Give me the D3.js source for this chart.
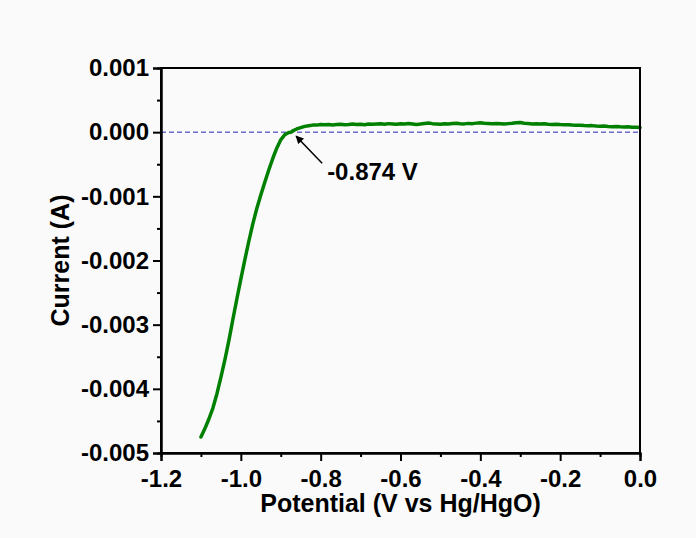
<!DOCTYPE html>
<html>
<head>
<meta charset="utf-8">
<script src="https://cdn.jsdelivr.net/npm/d3@7"></script>
<style>
  html, body { margin: 0; padding: 0; background: #fafafa; }
  svg { display: block; }
  text { font-family: "Liberation Sans", Arial, sans-serif; font-weight: bold; fill: #000; }
</style>
</head>
<body>
<svg id="chart" width="696" height="538"></svg>
<script>
// LSV sweep: potential (V vs Hg/HgO) and measured current (A)
const potential = [
  -1.100, -1.090, -1.080, -1.070, -1.060, -1.050, -1.040, -1.030, -1.020, -1.010,
  -1.000, -0.990, -0.980, -0.970, -0.960, -0.950, -0.940, -0.930, -0.920, -0.910,
  -0.900, -0.890, -0.880, -0.874, -0.870, -0.860, -0.850, -0.840, -0.830, -0.820,
  -0.810, -0.800, -0.790, -0.780, -0.770, -0.760, -0.750, -0.740, -0.730, -0.720,
  -0.710, -0.700, -0.690, -0.680, -0.670, -0.660, -0.650, -0.640, -0.630, -0.620,
  -0.610, -0.600, -0.590, -0.580, -0.570, -0.560, -0.550, -0.540, -0.530, -0.520,
  -0.510, -0.500, -0.490, -0.480, -0.470, -0.460, -0.450, -0.440, -0.430, -0.420,
  -0.410, -0.400, -0.390, -0.380, -0.370, -0.360, -0.350, -0.340, -0.330, -0.320,
  -0.310, -0.300, -0.290, -0.280, -0.270, -0.260, -0.250, -0.240, -0.230, -0.220,
  -0.210, -0.200, -0.190, -0.180, -0.170, -0.160, -0.150, -0.140, -0.130, -0.120,
  -0.110, -0.100, -0.090, -0.080, -0.070, -0.060, -0.050, -0.040, -0.030, -0.020,
  -0.010, 0.000
];
const current = [
  -0.004750, -0.004620, -0.004470, -0.004300, -0.004080, -0.003820, -0.003550, -0.003250, -0.002920, -0.002600,
  -0.002290, -0.001990, -0.001700, -0.001430, -0.001190, -0.000980, -0.000780, -0.000590, -0.000410, -0.000250,
  -0.000120, -0.000040, -0.000005, 0.000000, 0.000020, 0.000050, 0.000070, 0.000090, 0.000100, 0.000110,
  0.000110, 0.000120, 0.000115, 0.000120, 0.000112, 0.000118, 0.000125, 0.000116, 0.000121, 0.000128,
  0.000119, 0.000124, 0.000117, 0.000126, 0.000122, 0.000129, 0.000131, 0.000124, 0.000133, 0.000127,
  0.000122, 0.000130, 0.000126, 0.000134, 0.000128, 0.000121, 0.000127, 0.000135, 0.000142, 0.000133,
  0.000128, 0.000124, 0.000131, 0.000127, 0.000136, 0.000140, 0.000132, 0.000129, 0.000137, 0.000133,
  0.000141, 0.000148, 0.000139, 0.000134, 0.000130, 0.000136, 0.000131, 0.000127, 0.000133, 0.000138,
  0.000145, 0.000151, 0.000140, 0.000134, 0.000129, 0.000132, 0.000126, 0.000130, 0.000124, 0.000121,
  0.000125, 0.000118, 0.000114, 0.000117, 0.000110, 0.000106, 0.000109, 0.000103, 0.000099, 0.000102,
  0.000096, 0.000093, 0.000097, 0.000090, 0.000086, 0.000089, 0.000083, 0.000080, 0.000084, 0.000078,
  0.000075, 0.000072
];

const xTicks = [-1.2, -1.0, -0.8, -0.6, -0.4, -0.2, 0.0];
const xMinorTicks = [-1.1, -0.9, -0.7, -0.5, -0.3, -0.1];
const yTicks = [0.001, 0.000, -0.001, -0.002, -0.003, -0.004, -0.005];
const yMinorTicks = [0.0005, -0.0005, -0.0015, -0.0025, -0.0035, -0.0045];
const onsetPotential = -0.874;

const svg = d3.select("#chart");
const plotLeft = 161, plotRight = 640, plotTop = 68, plotBottom = 453;

const x = d3.scaleLinear().domain([-1.2, 0]).range([plotLeft, plotRight]);
const y = d3.scaleLinear().domain([-0.005, 0.001]).range([plotBottom, plotTop]);

// zero-current reference line
svg.append("line")
  .attr("x1", x(-1.2)).attr("x2", x(0))
  .attr("y1", y(0)).attr("y2", y(0))
  .attr("stroke", "#2424b4").attr("stroke-width", 1)
  .attr("stroke-dasharray", "5,3");

// sweep curve
const line = d3.line().x((d, i) => x(potential[i])).y((d, i) => y(current[i]));
svg.append("path")
  .attr("d", line(current))
  .attr("fill", "none")
  .attr("stroke", "#008000")
  .attr("stroke-width", 3.5)
  .attr("stroke-linejoin", "round")
  .attr("stroke-linecap", "round");

// frame
svg.append("rect")
  .attr("x", plotLeft).attr("y", plotTop)
  .attr("width", plotRight - plotLeft).attr("height", plotBottom - plotTop)
  .attr("fill", "none").attr("stroke", "#000").attr("stroke-width", 2);

// bottom axis
svg.append("g")
  .attr("transform", `translate(0,${plotBottom})`)
  .call(d3.axisBottom(x).tickValues(xTicks).tickSize(8).tickPadding(9)
    .tickFormat(d => d.toFixed(1)));
svg.append("g")
  .attr("transform", `translate(0,${plotBottom})`)
  .call(d3.axisBottom(x).tickValues(xMinorTicks).tickSize(4).tickFormat(""));

// left axis
svg.append("g")
  .attr("transform", `translate(${plotLeft},0)`)
  .call(d3.axisLeft(y).tickValues(yTicks).tickSize(8).tickPadding(4)
    .tickFormat(d => d.toFixed(3)));
svg.append("g")
  .attr("transform", `translate(${plotLeft},0)`)
  .call(d3.axisLeft(y).tickValues(yMinorTicks).tickSize(4).tickFormat(""));

svg.selectAll(".domain").attr("stroke", "#000").attr("stroke-width", 2);
svg.selectAll(".tick line").attr("stroke", "#000").attr("stroke-width", 2);
svg.selectAll(".tick text").style("font-size", "24px")
  .style("font-family", "'Liberation Sans', Arial, sans-serif").style("font-weight", "bold");

// axis titles
svg.append("text")
  .attr("x", (plotLeft + plotRight) / 2).attr("y", 512)
  .attr("text-anchor", "middle")
  .style("font-size", "25px")
  .text("Potential (V vs Hg/HgO)");

svg.append("text")
  .attr("transform", `translate(69,${(plotTop + plotBottom) / 2}) rotate(-90)`)
  .attr("text-anchor", "middle")
  .style("font-size", "25px")
  .text("Current (A)");

// onset annotation
const defs = svg.append("defs");
defs.append("marker")
  .attr("id", "arrowhead")
  .attr("viewBox", "0 0 10 10")
  .attr("refX", 9).attr("refY", 5)
  .attr("markerWidth", 10).attr("markerHeight", 8)
  .attr("markerUnits", "userSpaceOnUse")
  .attr("orient", "auto")
  .append("path").attr("d", "M0,0 L10,5 L0,10 Z").attr("fill", "#000");

const tipX = x(onsetPotential) + 5, tipY = y(0) + 4;
svg.append("line")
  .attr("x1", tipX + 26).attr("y1", tipY + 27)
  .attr("x2", tipX).attr("y2", tipY)
  .attr("stroke", "#000").attr("stroke-width", 1.5)
  .attr("marker-end", "url(#arrowhead)");

svg.append("text")
  .attr("x", tipX + 31).attr("y", tipY + 44)
  .style("font-size", "24px")
  .text(onsetPotential.toFixed(3) + " V");
</script>
</body>
</html>
